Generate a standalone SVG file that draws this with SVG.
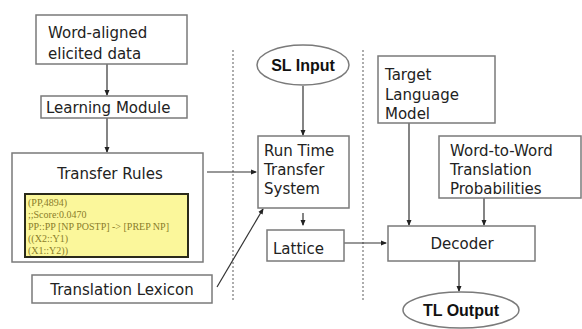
<svg xmlns="http://www.w3.org/2000/svg" width="582" height="329" viewBox="0 0 582 329">
<style>
.box{fill:#fff;stroke:#7a7a7a;stroke-width:1.5}
.t{font-family:"DejaVu Sans",Verdana,sans-serif;font-size:15px;fill:#222}
.b{font-family:"Liberation Sans",Arial,sans-serif;font-size:16px;font-weight:bold;fill:#111}
.y{font-family:"Liberation Serif","Times New Roman",serif;font-size:10px;fill:#8a7d2a}
.c{stroke:#333;stroke-width:1.2;fill:none}
.d{stroke:#777;stroke-width:1.2;stroke-dasharray:2,2;fill:none}
</style>
<defs>
<marker id="a" markerWidth="6" markerHeight="6" refX="5" refY="3" orient="auto" markerUnits="userSpaceOnUse">
<path d="M0,0.5 L6,3 L0,5.5 Z" fill="#222"/>
</marker>
</defs>
<rect width="582" height="329" fill="#fff"/>
<g id="dividers">
<line class="d" x1="233" y1="50" x2="233" y2="300"/>
<line class="d" x1="363" y1="50" x2="363" y2="300"/>
</g>
<g id="connectors">
<line class="c" x1="107" y1="64" x2="107" y2="95" marker-end="url(#a)"/>
<line class="c" x1="107" y1="118" x2="107" y2="152" marker-end="url(#a)"/>
<line class="c" x1="207" y1="172" x2="256" y2="172" marker-end="url(#a)"/>
<line class="c" x1="217" y1="287" x2="263" y2="209" marker-end="url(#a)"/>
<line class="c" x1="303" y1="86" x2="303" y2="135" marker-end="url(#a)"/>
<line class="c" x1="303" y1="213" x2="303" y2="225" marker-end="url(#a)"/>
<line class="c" x1="344" y1="243" x2="386" y2="243" marker-end="url(#a)"/>
<line class="c" x1="409" y1="123" x2="409" y2="225" marker-end="url(#a)"/>
<line class="c" x1="484" y1="198" x2="484" y2="225" marker-end="url(#a)"/>
<line class="c" x1="459" y1="261" x2="459" y2="291" marker-end="url(#a)"/>
</g>
<g id="word-aligned">
<rect class="box" x="36" y="15" width="151" height="49"/>
<text class="t" x="48" y="38">Word-aligned</text>
<text class="t" x="48" y="59">elicited data</text>
</g>
<g id="learning-module">
<rect class="box" x="41" y="96" width="146" height="22"/>
<text class="t" x="46" y="113">Learning Module</text>
</g>
<g id="transfer-rules">
<rect class="box" x="12" y="153" width="191" height="109"/>
<text class="t" x="110" y="179" text-anchor="middle">Transfer Rules</text>
<rect x="25" y="194" width="163" height="63" fill="#fbf79b" stroke="#2a2a1a" stroke-width="2"/>
<text class="y" x="28" y="206">(PP,4894)</text>
<text class="y" x="28" y="218">;;Score:0.0470</text>
<text class="y" x="28" y="230">PP::PP [NP POSTP] -&gt; [PREP NP]</text>
<text class="y" x="28" y="242">((X2::Y1)</text>
<text class="y" x="28" y="254">(X1::Y2))</text>
</g>
<g id="translation-lexicon">
<rect class="box" x="32" y="275" width="180" height="28"/>
<text class="t" x="122" y="295" text-anchor="middle">Translation Lexicon</text>
</g>
<g id="sl-input">
<ellipse class="box" cx="303" cy="65" rx="46" ry="20"/>
<text class="b" x="303" y="71" text-anchor="middle">SL Input</text>
</g>
<g id="run-time">
<rect class="box" x="258" y="136" width="91" height="72"/>
<text class="t" x="264" y="156">Run Time</text>
<text class="t" x="264" y="175">Transfer</text>
<text class="t" x="264" y="194">System</text>
</g>
<g id="lattice">
<rect class="box" x="267" y="230" width="77" height="31"/>
<text class="t" x="273" y="254">Lattice</text>
</g>
<g id="target-lm">
<rect class="box" x="378" y="56" width="117" height="67"/>
<text class="t" x="385" y="80">Target</text>
<text class="t" x="385" y="100">Language</text>
<text class="t" x="385" y="119">Model</text>
</g>
<g id="word-to-word">
<rect class="box" x="439" y="136" width="142" height="62"/>
<text class="t" x="450" y="156">Word-to-Word</text>
<text class="t" x="450" y="175">Translation</text>
<text class="t" x="450" y="194">Probabilities</text>
</g>
<g id="decoder">
<rect class="box" x="388" y="226" width="147" height="35"/>
<text class="t" x="462" y="249" text-anchor="middle">Decoder</text>
</g>
<g id="tl-output">
<ellipse class="box" cx="461" cy="310" rx="58" ry="18"/>
<text class="b" x="461" y="316" text-anchor="middle">TL Output</text>
</g>
</svg>
